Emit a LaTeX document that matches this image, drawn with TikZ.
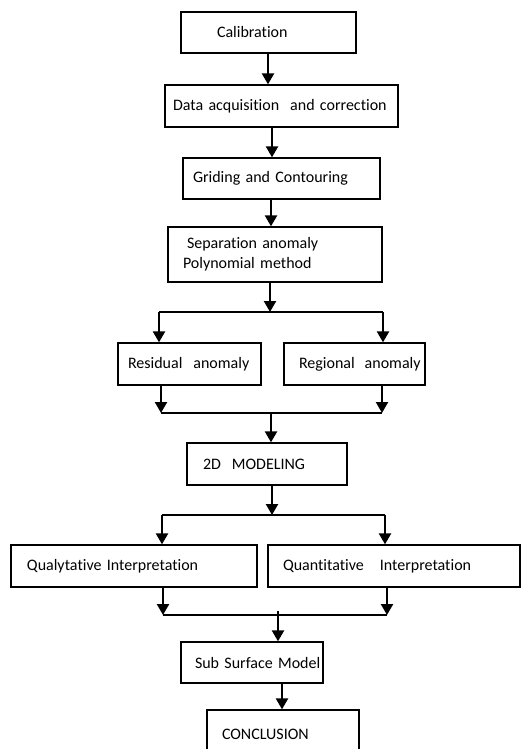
\documentclass[tikz,border=0pt]{standalone}
\usepackage{fontspec}
\setmainfont{Carlito}[Ligatures=NoCommon, WordSpace=0.85]
\usetikzlibrary{arrows.meta,calc}
\begin{document}
\begin{tikzpicture}[x=1pt,y=-1pt,
  box/.style={draw=black, line width=1.3pt, inner xsep=0pt, inner ysep=0pt, align=left, font=\fontsize{16}{20}\selectfont},
  arr/.style={line width=2.3pt, -{Triangle[width=12pt,length=11pt]}},
  hline/.style={line width=1.4pt}]
\clip (0,0) rectangle (528,749);
\fill[white] (0,0) rectangle (528,749);
% boxes: center (x,y), width, height
\node[box, text width=175pt, minimum height=41pt] (cal) at (268.5,32.5) {\mbox{\hspace*{36pt}Calibration}};
\node[box, text width=233pt, minimum height=42pt] (data) at (281.5,106) {\mbox{\hspace*{8pt}Data acquisition\hspace{11pt}and correction}};
\node[box, text width=197pt, minimum height=41pt] (grid) at (281.5,178.5) {\mbox{\hspace*{10pt}Griding and Contouring}};
\node[box, text width=214pt, minimum height=55pt] (sep) at (275,254.5) {\mbox{\hspace*{19pt}Separation anomaly}\\\mbox{\hspace*{15pt}Polynomial method}};
\node[box, text width=143pt, minimum height=42pt] (res) at (189.5,364) {\mbox{\hspace*{10pt}Residual\hspace{11pt}anomaly}};
\node[box, text width=141pt, minimum height=42pt] (reg) at (354.5,364) {\mbox{\hspace*{15pt}Regional\hspace{10pt}anomaly}};
\node[box, text width=160pt, minimum height=42pt] (mod) at (267,464) {\mbox{\hspace*{16pt}2D\hspace{11pt}MODELING}};
\node[box, text width=246pt, minimum height=42pt] (qual) at (134,566) {\mbox{\hspace*{16pt}Qualytative Interpretation}};
\node[box, text width=252pt, minimum height=42pt] (quant) at (394,566) {\mbox{\hspace*{15pt}Quantitative\hspace{16pt}Interpretation}};
\node[box, text width=142pt, minimum height=41pt] (sub) at (252,662.5) {\mbox{\hspace*{14pt}Sub Surface Model}};
\node[box, text width=152pt, minimum height=49pt] (conc) at (283,734.5) {\mbox{\hspace*{15pt}CONCLUSION}};
% junction coordinates
\coordinate (j1) at (270,312);
\coordinate (j1l) at (159,312);
\coordinate (j1r) at (383,312);
\coordinate (j2) at (271,413);
\coordinate (j2l) at (161,413);
\coordinate (j2r) at (382,413);
\coordinate (j3) at (272,515);
\coordinate (j3l) at (162,515);
\coordinate (j3r) at (385,515);
\coordinate (j4) at (278,611);
\coordinate (j4l) at (163,615);
\coordinate (j4r) at (387,615);
% connectors
\draw[arr] (cal.south -| 268,0) -- (data.north -| 268,0);
\draw[arr] (data.south -| 272,0) -- (grid.north -| 272,0);
\draw[arr] (grid.south -| 271,0) -- (sep.north -| 271,0);
\draw[arr] (j1 |- sep.south) -- (j1);
\draw[hline] (j1l) -- (j1r);
\draw[arr] (j1l) -- (j1l |- res.north);
\draw[arr] (j1r) -- (j1r |- reg.north);
\draw[arr] (j2l |- res.south) -- (j2l);
\draw[arr] (j2r |- reg.south) -- (j2r);
\draw[hline] (j2l) -- (j2r);
\draw[arr] (j2) -- (j2 |- mod.north);
\draw[arr] (j3 |- mod.south) -- (j3);
\draw[hline] (j3l) -- (j3r);
\draw[arr] (j3l) -- (j3l |- qual.north);
\draw[arr] (j3r) -- (j3r |- quant.north);
\draw[arr] (j4l |- qual.south) -- (j4l);
\draw[arr] (j4r |- quant.south) -- (j4r);
\draw[hline] (j4l) -- (j4r);
\draw[arr] (j4) -- (j4 |- sub.north);
\draw[arr] (sub.south -| 282,0) -- (conc.north -| 282,0);
\end{tikzpicture}
\end{document}
